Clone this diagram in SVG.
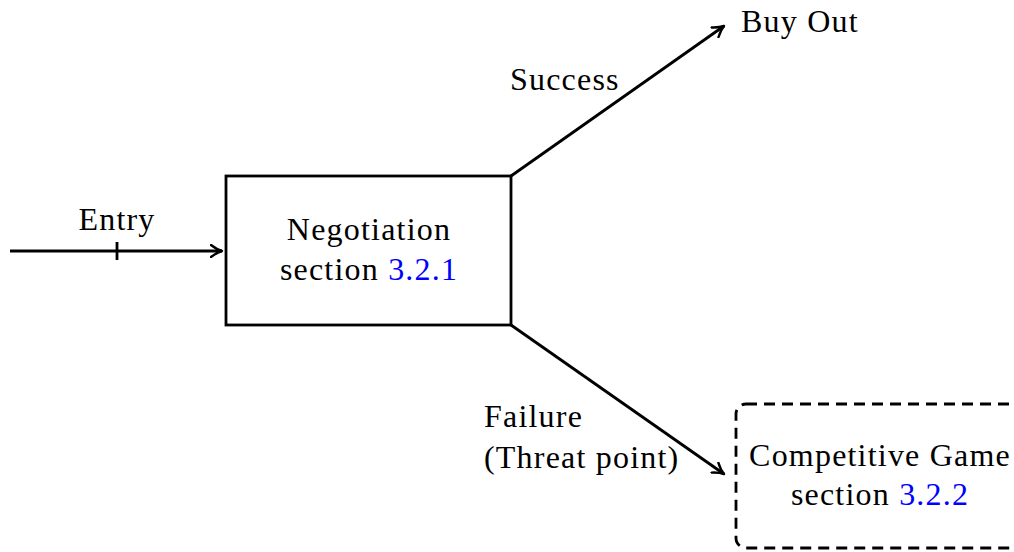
<svg xmlns="http://www.w3.org/2000/svg" width="1014" height="552" viewBox="0 0 1014 552">
<style>
text{font-family:"Liberation Serif","DejaVu Serif",serif;font-size:32px;letter-spacing:1.2px;fill:#000}
.c{text-anchor:middle}
.ref{fill:#0000ff}
.edge{fill:none;stroke:#000;stroke-width:2.8}
.box{fill:#fff;stroke:#000;stroke-width:2.8}
.dash{fill:#fff;stroke:#000;stroke-width:2.8;stroke-dasharray:11,7}
</style>
<defs>
<marker id="arr" viewBox="-12 -7 14 14" refX="0" refY="0" markerWidth="14" markerHeight="14" markerUnits="userSpaceOnUse" orient="auto">
<path d="M-11,-6 Q-5,-1.4 0,0 Q-5,1.4 -11,6" fill="none" stroke="#000" stroke-width="2.4" stroke-linecap="round" stroke-linejoin="round"/>
</marker>
</defs>
<g id="connectors">
<line class="edge" x1="10" y1="251" x2="222" y2="251" marker-end="url(#arr)"/>
<line class="edge" x1="117" y1="242" x2="117" y2="260"/>
<line class="edge" x1="511" y1="176" x2="724" y2="26" marker-end="url(#arr)"/>
<line class="edge" x1="511" y1="325" x2="724" y2="474" marker-end="url(#arr)"/>
<text class="c" x="117" y="230">Entry</text>
<text x="510" y="90">Success</text>
<text x="484" y="427">Failure</text>
<text x="484" y="468">(Threat point)</text>
</g>
<g id="negotiation">
<rect class="box" x="226" y="176" width="285" height="149"/>
<text class="c" x="369" y="240">Negotiation</text>
<text class="c" x="369" y="280">section <tspan class="ref">3.2.1</tspan></text>
</g>
<g id="buyout">
<text x="741" y="32">Buy Out</text>
</g>
<g id="competitive">
<rect class="dash" x="736" y="404" width="290" height="144" rx="10" ry="10"/>
<text class="c" x="880" y="466">Competitive Game</text>
<text class="c" x="880" y="505">section <tspan class="ref">3.2.2</tspan></text>
</g>
</svg>
